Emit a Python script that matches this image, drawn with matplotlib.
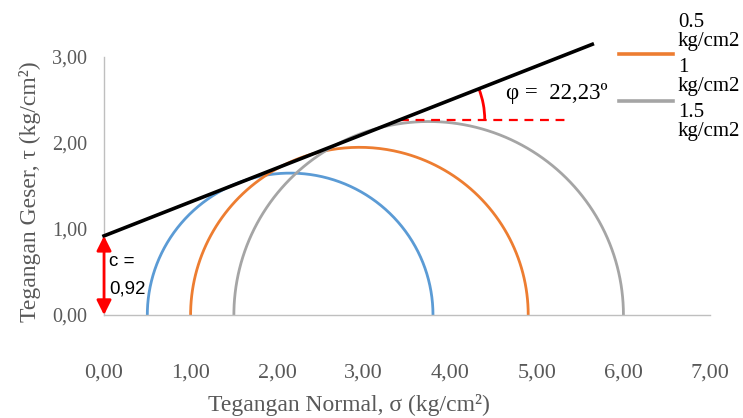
import numpy as np
import matplotlib
matplotlib.use("Agg")
import matplotlib.pyplot as plt
from matplotlib.lines import Line2D
from matplotlib.patches import Arc

# Data
sigma3 = [0.5, 1.0, 1.5]          # minor principal stress (kg/cm2)
sigma1 = [3.8, 4.9, 6.0]          # major principal stress (kg/cm2)
labels = ["0.5\nkg/cm2", "1\nkg/cm2", "1.5\nkg/cm2"]
colors = ["#5B9BD5", "#ED7D31", "#A5A5A5"]
cohesion = 0.92
phi_label = "22,23º"
env_x = [0.0, 5.64]
env_slope = 0.395
xticks = [0, 1, 2, 3, 4, 5, 6, 7]
yticks = [0, 1, 2, 3]

serif = "Liberation Serif"
gray_txt = "#595959"

fig = plt.figure(figsize=(7.43, 4.18), dpi=100)
ax = fig.add_axes([0.140, 0.2464, 0.8156, 0.6172])

for s3, s1, c in zip(sigma3, sigma1, colors):
    cen = (s1 + s3) / 2
    r = (s1 - s3) / 2
    t = np.linspace(0, np.pi, 300)
    ax.plot(cen + r * np.cos(t), r * np.sin(t), color=c, lw=2.0, solid_capstyle="butt")

# envelope
ex = np.array(env_x)
ey = cohesion + env_slope * ex
ax.plot(ex, ey, color="black", lw=2.6, clip_on=False, zorder=5)

# dashed horizontal reference
y_ref = 2.27
x_int = (y_ref - cohesion) / env_slope
ax.plot([x_int, 5.38], [y_ref, y_ref], color="red", lw=1.6, ls=(0, (4, 3)), zorder=4)

# angle arc
ang = np.degrees(np.arctan(env_slope))
arc = Arc((x_int, y_ref), 2 * 0.98, 2 * 0.98 * 86.6 / 86.0, theta1=0, theta2=ang,
          color="red", lw=2.0, zorder=4)
ax.add_patch(arc)
ax.text(4.64, 2.57, "φ =  " + phi_label, fontsize=16.5, family=serif, color="black",
        va="center", ha="left")

# cohesion arrow
ax.annotate("", xy=(0.0, 0.0), xytext=(0.0, cohesion),
            arrowprops=dict(arrowstyle="<|-|>", color="red", lw=2.0,
                            mutation_scale=22, shrinkA=0, shrinkB=0),
            annotation_clip=False, zorder=6)
ax.text(0.06, 0.62, "c =", fontsize=13.5, family="Liberation Sans", va="center", ha="left")
ax.text(0.06, 0.30, "0,92", fontsize=13.5, family="Liberation Sans", va="center", ha="left")

ax.set_xlim(0, 7)
ax.set_ylim(0, 3)
ax.set_xticks(xticks)
ax.set_yticks(yticks)
ax.set_xticklabels([f"{v:.2f}".replace(".", ",") for v in xticks], family=serif,
                   fontsize=16, color=gray_txt)
ax.set_yticklabels([f"{v:.2f}".replace(".", ",") for v in yticks], family=serif,
                   fontsize=14.5, color=gray_txt)
ax.tick_params(axis="x", length=0, pad=35)
ax.tick_params(axis="y", length=0, pad=12)
for sp in ["top", "right"]:
    ax.spines[sp].set_visible(False)
for sp in ["left", "bottom"]:
    ax.spines[sp].set_color("#BFBFBF")
    ax.spines[sp].set_linewidth(1.0)

ax.set_xlabel("Tegangan Normal, σ (kg/cm²)", family=serif, fontsize=17,
              color=gray_txt, labelpad=8, x=0.404)
ax.set_ylabel("Tegangan Geser, τ (kg/cm²)", family=serif, fontsize=17,
              color=gray_txt, labelpad=8, y=0.477)

# legend (manual, as in the reference)
leg_text_y = [1 - 32 / 418, 1 - 77 / 418, 1 - 122 / 418]
leg_line_y = [None, 1 - 54 / 418, 1 - 101 / 418]
for lbl, ty, ly, c in zip(labels, leg_text_y, leg_line_y, colors):
    fig.text(678 / 743, ty, lbl, family=serif, fontsize=15, color="black",
             va="center", ha="left", linespacing=1.05)
    if ly is not None:
        fig.add_artist(Line2D([619 / 743, 673 / 743], [ly, ly], color=c, lw=2.6,
                              transform=fig.transFigure))

fig.savefig("out.png", dpi=100)
